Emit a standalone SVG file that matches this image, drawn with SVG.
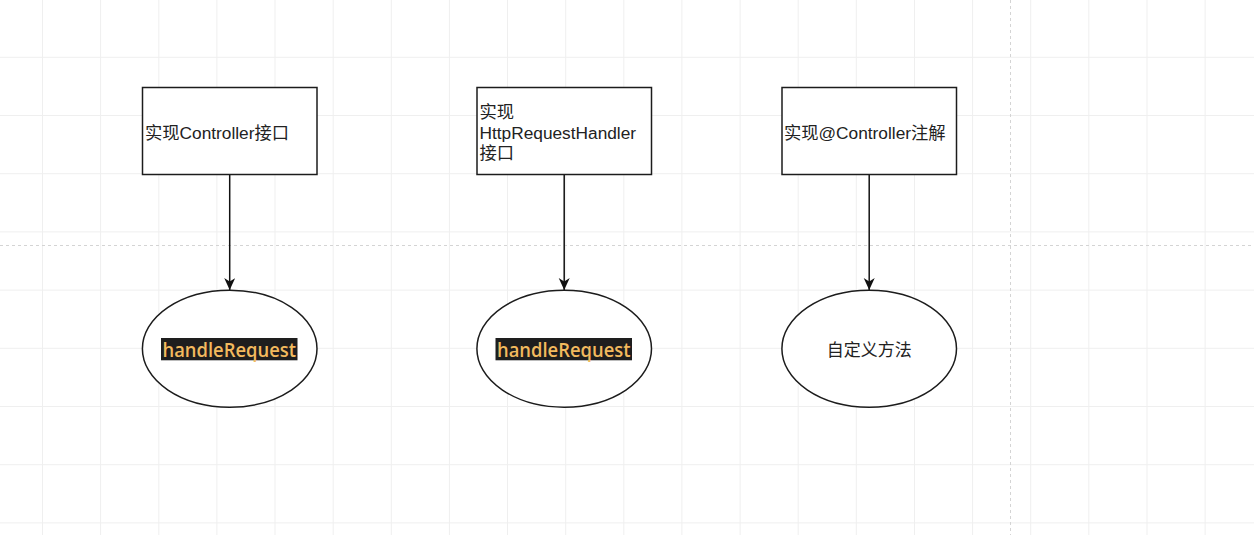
<svg xmlns="http://www.w3.org/2000/svg" width="1254" height="535" viewBox="0 0 1254 535">
  <style>
    .grid { stroke: #efefef; stroke-width: 1; fill: none; }
    .page { stroke: #d4d4d4; stroke-width: 1; stroke-dasharray: 3 3; fill: none; }
    .box { fill: #ffffff; stroke: #1c1c1c; stroke-width: 1.5; }
    .ell { fill: #ffffff; stroke: #1c1c1c; stroke-width: 1.5; }
    .lbl { font-family: "Liberation Sans", Arial, "Noto Sans CJK SC", sans-serif; font-size: 17.3px; fill: #222222; }
    .cjk { font-family: "Liberation Sans", "Noto Sans CJK SC", sans-serif; font-size: 17px; fill: #222222; }
    .hl { fill: #1e1e1e; }
    .hlt { font-family: "Open Sans", "Noto Sans", sans-serif; font-size: 19px; font-weight: 600; fill: #f2ba5e; }
    .edge { stroke: #111111; stroke-width: 1.5; fill: none; }
  </style>
  <defs>
    <marker id="arrow" markerUnits="userSpaceOnUse" markerWidth="14" markerHeight="14" viewBox="0 0 14 14" refX="12" refY="5.5" orient="auto">
      <path d="M0,0 L12,5.5 L0,11 L3.5,5.5 Z" fill="#111111"/>
    </marker>
  </defs>
  <rect x="0" y="0" width="1254" height="535" fill="#ffffff"/>
  <g id="grid">
    <path class="grid" d="M42.5,0V535 M100.6,0V535 M158.8,0V535 M216.9,0V535 M275,0V535 M333.2,0V535 M391.3,0V535 M449.4,0V535 M507.5,0V535 M565.7,0V535 M623.8,0V535 M681.9,0V535 M740.1,0V535 M798.2,0V535 M856.3,0V535 M914.5,0V535 M972.6,0V535 M1030.7,0V535 M1088.8,0V535 M1147,0V535 M1205.1,0V535"/>
    <path class="grid" d="M0,57.3H1254 M0,115.5H1254 M0,173.7H1254 M0,231.9H1254 M0,290.1H1254 M0,348.3H1254 M0,406.5H1254 M0,464.7H1254 M0,522.9H1254"/>
    <path class="page" d="M0,245.5H1254 M1010.5,0V535"/>
  </g>
  <g id="connectors">
    <path class="edge" d="M229.7,174.5V290" marker-end="url(#arrow)"/>
    <path class="edge" d="M564.2,174.5V290" marker-end="url(#arrow)"/>
    <path class="edge" d="M869.2,174.5V290" marker-end="url(#arrow)"/>
  </g>
  <g id="node-controller">
    <rect class="box" x="142.5" y="87.5" width="174.5" height="87"/>
    <text class="lbl" x="145" y="139">实现Controller接口</text>
  </g>
  <g id="node-httprequesthandler">
    <rect class="box" x="477" y="87.5" width="174.5" height="87"/>
    <text class="lbl" x="479.5" y="118">实现</text>
    <text class="lbl" x="479.5" y="138.5">HttpRequestHandler</text>
    <text class="lbl" x="479.5" y="159">接口</text>
  </g>
  <g id="node-annotation">
    <rect class="box" x="782" y="87.5" width="174.5" height="87"/>
    <text class="lbl" x="784" y="139">实现@Controller注解</text>
  </g>
  <g id="node-handle1">
    <ellipse class="ell" cx="229.7" cy="348.7" rx="87.3" ry="58.5"/>
    <rect class="hl" x="161" y="338" width="136.5" height="22.3"/>
    <text class="hlt" x="162.5" y="357" textLength="133.5" lengthAdjust="spacingAndGlyphs">handleRequest</text>
  </g>
  <g id="node-handle2">
    <ellipse class="ell" cx="564.2" cy="348.7" rx="87.3" ry="58.5"/>
    <rect class="hl" x="495.5" y="338" width="136.5" height="22.3"/>
    <text class="hlt" x="497" y="357" textLength="133.5" lengthAdjust="spacingAndGlyphs">handleRequest</text>
  </g>
  <g id="node-custom">
    <ellipse class="ell" cx="869.2" cy="348.7" rx="87.3" ry="58.5"/>
    <text class="cjk" x="869.2" y="356" text-anchor="middle">自定义方法</text>
  </g>
</svg>
